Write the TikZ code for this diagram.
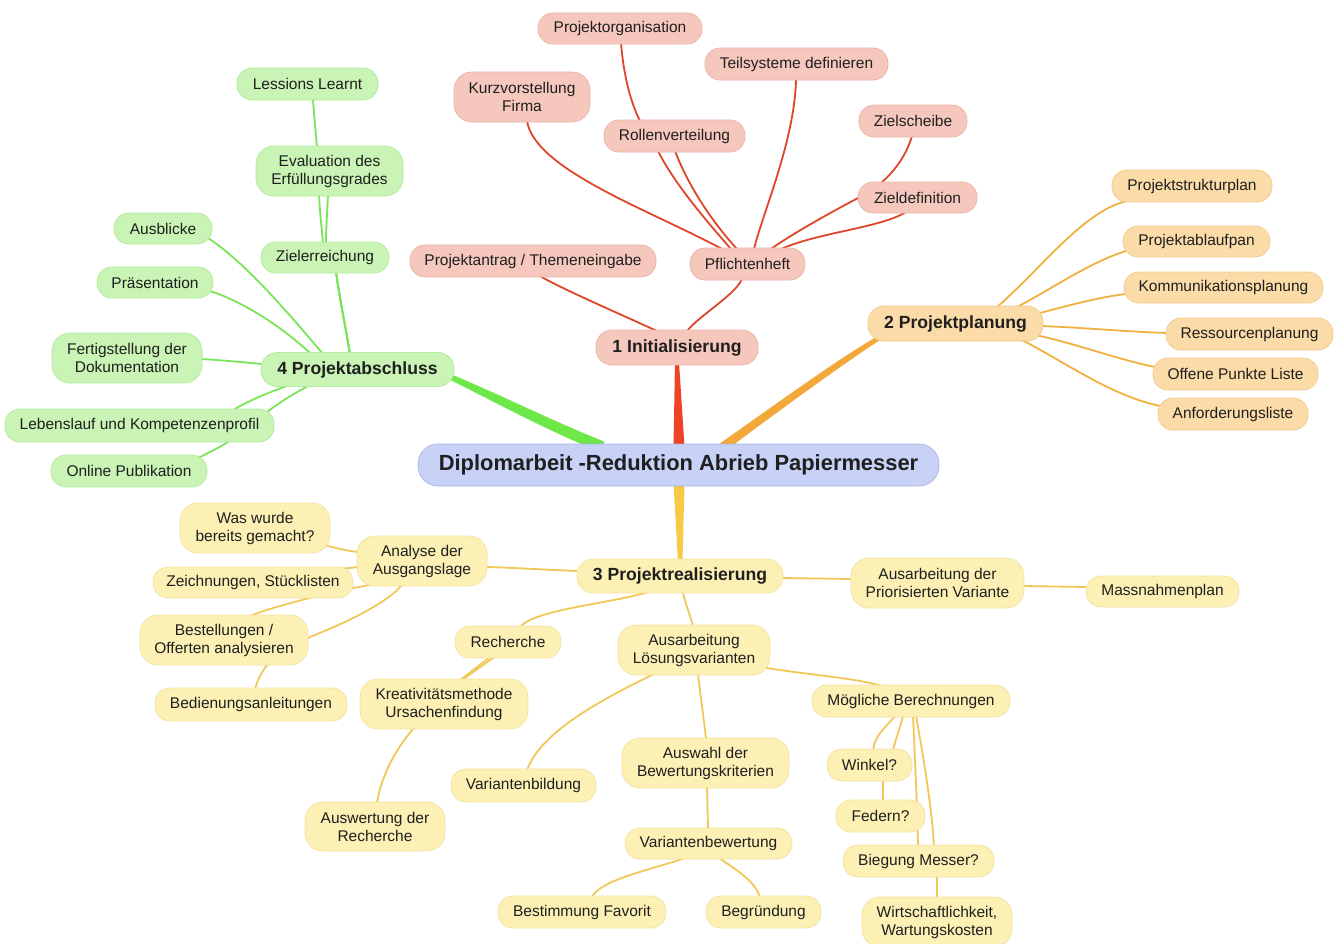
\documentclass[tikz,border=0pt]{standalone}
\usepackage{fontspec}
\setmainfont{Liberation Sans}
\usetikzlibrary{calc}

\definecolor{ink}{HTML}{1F1F1F}
\definecolor{rootfill}{HTML}{C8D1F6}
\definecolor{rootdraw}{HTML}{A7B3E8}
\definecolor{rfill}{HTML}{F6C8BD}
\definecolor{rdraw}{HTML}{EBB3A6}
\definecolor{rline}{HTML}{DD4628}
\definecolor{rband}{HTML}{EE4324}
\definecolor{ofill}{HTML}{FBDBA7}
\definecolor{odraw}{HTML}{F3CB8E}
\definecolor{oline}{HTML}{F0B13F}
\definecolor{oband}{HTML}{F2A93A}
\definecolor{yfill}{HTML}{FCF0B4}
\definecolor{ydraw}{HTML}{F3E3A0}
\definecolor{yline}{HTML}{F1C757}
\definecolor{yband}{HTML}{F6CA45}
\definecolor{gfill}{HTML}{C9F4B6}
\definecolor{gdraw}{HTML}{B2EB9A}
\definecolor{gline}{HTML}{7BE55A}
\definecolor{gband}{HTML}{6DE848}

\newcommand\fsLeaf{\fontsize{15.5}{18}\selectfont}
\newcommand\fsTopic{\bfseries\fontsize{17.6}{20}\selectfont}
\newcommand\fsRoot{\bfseries\fontsize{21.9}{24}\selectfont}

\pgfdeclarelayer{paper}
\pgfdeclarelayer{links}
\pgfsetlayers{paper,links,main}

\tikzset{
  nd/.style={draw, rounded corners=15pt, line width=0.7pt, inner sep=0pt,
             align=center, text=ink, font=\fsLeaf},
  tall/.style={rounded corners=18pt},
  sz/.style 2 args={minimum width=#1pt, minimum height=#2pt},
  topic/.style={font=\fsTopic, rounded corners=16pt},
  rootnode/.style={nd, fill=rootfill, draw=rootdraw, font=\fsRoot, rounded corners=20pt},
  rleaf/.style={nd, fill=rfill, draw=rdraw},
  oleaf/.style={nd, fill=ofill, draw=odraw},
  yleaf/.style={nd, fill=yfill, draw=ydraw},
  gleaf/.style={nd, fill=gfill, draw=gdraw},
  link/.style={line width=1.8pt, line cap=round, line join=round},
  rlink/.style={link, draw=rline},
  olink/.style={link, draw=oline},
  ylink/.style={link, draw=yline},
  glink/.style={link, draw=gline},
}

\begin{document}
\begin{tikzpicture}[x=1pt, y=-1pt]
\begin{pgfonlayer}{paper}
  \fill[white] (0,0) rectangle (1338,943);
\end{pgfonlayer}
\useasboundingbox (0,0) rectangle (1338,943);

% ---------- central topic and main branches ----------
\node[rootnode, sz={521}{42}] (root) at (678.5,465) {Diplomarbeit -Reduktion Abrieb Papiermesser};
\node[rleaf, topic, sz={162}{35}] (init) at (677,347.5) {1 Initialisierung};
\node[oleaf, topic, sz={175}{35}] (pp2) at (955.5,323.5) {2 Projektplanung};
\node[yleaf, topic, sz={206}{34}] (pr3) at (680,576) {3 Projektrealisierung};
\node[gleaf, topic, sz={193}{34}] (pa4) at (357.5,369.5) {4 Projektabschluss};

% ---------- 1 Initialisierung ----------
\node[rleaf, sz={246}{32}] (antrag) at (533,261) {Projektantrag / Themeneingabe};
\node[rleaf, sz={115}{32}] (pfl) at (747.5,264) {Pflichtenheft};
\node[rleaf, tall, sz={136}{50}] (kurz) at (522,97) {Kurzvorstellung\\Firma};
\node[rleaf, sz={164}{31}] (porg) at (620,28.5) {Projektorganisation};
\node[rleaf, sz={141}{32}] (roll) at (674.5,136) {Rollenverteilung};
\node[rleaf, sz={183}{32}] (teil) at (796.5,64) {Teilsysteme definieren};
\node[rleaf, sz={108}{32}] (zsch) at (913,121) {Zielscheibe};
\node[rleaf, sz={119}{31}] (zdef) at (917.5,197.5) {Zieldefinition};

% ---------- 2 Projektplanung ----------
\node[oleaf, sz={160}{32}] (pst) at (1192,186) {Projektstrukturplan};
\node[oleaf, sz={147}{31}] (pab) at (1196.5,241.5) {Projektablaufpan};
\node[oleaf, sz={199}{31}] (kom) at (1223.5,287.5) {Kommunikationsplanung};
\node[oleaf, sz={167}{32}] (res) at (1249.5,334) {Ressourcenplanung};
\node[oleaf, sz={165}{32}] (opl) at (1235.5,374) {Offene Punkte Liste};
\node[oleaf, sz={150}{32}] (anf) at (1233,414) {Anforderungsliste};

% ---------- 4 Projektabschluss ----------
\node[gleaf, sz={141}{32}] (les) at (307.5,84) {Lessions Learnt};
\node[gleaf, tall, sz={147}{50}] (eva) at (329.5,171) {Evaluation des\\Erfüllungsgrades};
\node[gleaf, sz={128}{31}] (zie) at (325,257.5) {Zielerreichung};
\node[gleaf, sz={98}{31}] (aus) at (163,228.5) {Ausblicke};
\node[gleaf, sz={116}{31}] (pra) at (155,282.5) {Präsentation};
\node[gleaf, tall, sz={150}{50}] (fer) at (127,358) {Fertigstellung der\\Dokumentation};
\node[gleaf, sz={269}{33}] (leb) at (139.5,425.5) {Lebenslauf und Kompetenzenprofil};
\node[gleaf, sz={156}{32}] (onl) at (129,471) {Online Publikation};

% ---------- 3 Projektrealisierung ----------
\node[yleaf, tall, sz={130}{50}] (ana) at (422,561) {Analyse der\\Ausgangslage};
\node[yleaf, tall, sz={150}{50}] (was) at (255,528) {Was wurde\\bereits gemacht?};
\node[yleaf, sz={200}{31}] (zei) at (253,582.5) {Zeichnungen, Stücklisten};
\node[yleaf, tall, sz={168}{50}] (bes) at (224,640) {Bestellungen /\\Offerten analysieren};
\node[yleaf, sz={192}{33}] (bed) at (251,704.5) {Bedienungsanleitungen};
\node[yleaf, sz={106}{32}] (rec) at (508,642) {Recherche};
\node[yleaf, tall, sz={168}{50}] (kre) at (444,704) {Kreativitätsmethode\\Ursachenfindung};
\node[yleaf, tall, sz={140}{49}] (ausw) at (375,826.5) {Auswertung der\\Recherche};
\node[yleaf, tall, sz={152}{50}] (alv) at (694,650) {Ausarbeitung\\Lösungsvarianten};
\node[yleaf, sz={145}{33}] (vbi) at (523.5,785.5) {Variantenbildung};
\node[yleaf, tall, sz={167}{50}] (awk) at (705.5,763) {Auswahl der\\Bewertungskriterien};
\node[yleaf, sz={167}{31}] (vbw) at (708.5,843.5) {Variantenbewertung};
\node[yleaf, sz={168}{32}] (bfa) at (582,912) {Bestimmung Favorit};
\node[yleaf, sz={115}{32}] (beg) at (763.5,912) {Begründung};
\node[yleaf, sz={198}{32}] (mbe) at (911,701) {Mögliche Berechnungen};
\node[yleaf, sz={85}{32}] (win) at (869.5,765) {Winkel?};
\node[yleaf, sz={89}{32}] (fed) at (880.5,816) {Federn?};
\node[yleaf, sz={151}{32}] (bie) at (918.5,861) {Biegung Messer?};
\node[yleaf, tall, sz={150}{50}] (wir) at (937,922) {Wirtschaftlichkeit,\\Wartungskosten};
\node[yleaf, tall, sz={173}{50}] (apv) at (937.5,583) {Ausarbeitung der\\Priorisierten Variante};
\node[yleaf, sz={153}{31}] (mas) at (1162.5,591.5) {Massnahmenplan};

\begin{pgfonlayer}{links}
% tapered main branches
\fill[rband] ($(init.south)+(-2,-3)$) -- ($(init.south)+(2,-3)$)
  -- ($(root.north)+(6,3)$) -- ($(root.north)+(-5,3)$) -- cycle;
\fill[yband] ($(root.south)+(-5,-3)$) -- ($(root.south)+(6,-3)$)
  -- ($(pr3.north)+(2.5,3)$) -- ($(pr3.north)+(-2,3)$) -- cycle;
\fill[gband] ($(pa4.east)+(-3,5)$) .. controls (497,393) and (550,420) .. ($(root.north)+(-74,-2)$)
  -- ($(root.north)+(-79,8)$) .. controls (546,430) and (493,401) .. ($(pa4.east)+(-5,10)$) -- cycle;
\fill[oband] ($(pp2.south west)+(10,-5)$) .. controls (843,355) and (758,417) .. ($(root.north)+(41,0)$)
  -- ($(root.north)+(46,8)$) .. controls (762,423) and (847,361) .. ($(pp2.south west)+(12,-1)$) -- cycle;

% 1 Initialisierung
\draw[rlink] (init.center) -- (657,331) .. controls (620,314) and (560,288) .. (540,276) -- (antrag.center);
\draw[rlink] (init.center) -- (687,331) .. controls (700,315) and (735,295) .. (742,279) -- (pfl.center);
\draw[rlink] (kurz.center) -- (527,121) .. controls (535,170) and (650,210) .. (724,250) -- (pfl.center);
\draw[rlink] (porg.center) -- (621,43) .. controls (624,80) and (632,105) .. (640,121)
  -- (658,151) .. controls (675,185) and (710,225) .. (731,249) -- (pfl.center);
\draw[rlink] (roll.center) -- (675,151) .. controls (690,190) and (715,225) .. (737,249) -- (pfl.center);
\draw[rlink] (teil.center) -- (796,79) .. controls (795,140) and (762,215) .. (754,249) -- (pfl.center);
\draw[rlink] (zsch.center) -- (912,136) .. controls (905,160) and (890,175) .. (881,183)
  -- (860,197) .. controls (835,210) and (790,235) .. (771,249) -- (pfl.center);
\draw[rlink] (zdef.center) -- (906,212) .. controls (880,228) and (820,232) .. (781,249) -- (pfl.center);

% 2 Projektplanung
\draw[olink] (pp2.center) -- (997,307) .. controls (1040,270) and (1080,215) .. (1123,202) -- (pst.center);
\draw[olink] (pp2.center) -- (1017,307) .. controls (1050,290) and (1090,262) .. (1126,251) -- (pab.center);
\draw[olink] (pp2.center) -- (1040,313) .. controls (1070,305) and (1100,297) .. (1126,294) -- (kom.center);
\draw[olink] (pp2.center) -- (1042,326) .. controls (1090,328) and (1130,332) .. (1168,333) -- (res.center);
\draw[olink] (pp2.center) -- (1040,336) .. controls (1080,345) and (1120,360) .. (1155,367) -- (opl.center);
\draw[olink] (pp2.center) -- (1022,340) .. controls (1070,365) and (1110,395) .. (1160,406) -- (anf.center);

% 4 Projektabschluss
\draw[glink] (les.center) -- (313,99) .. controls (314,115) and (316,135) .. (317,147)
  -- (319,195) .. controls (320,215) and (322,230) .. (323,243)
  -- (336,272) .. controls (340,300) and (346,330) .. (350,354) -- (pa4.center);
\draw[glink] (eva.center) -- (328,195) .. controls (327,215) and (326,230) .. (326,243)
  -- (336,272) .. controls (340,300) and (346,330) .. (350,354) -- (pa4.center);
\draw[glink] (zie.center) -- (336,272) .. controls (340,300) and (346,330) .. (350,354) -- (pa4.center);
\draw[glink] (aus.center) -- (208,238) .. controls (245,262) and (290,315) .. (323,354) -- (pa4.center);
\draw[glink] (pra.center) -- (213,292) .. controls (250,305) and (285,330) .. (310,353) -- (pa4.center);
\draw[glink] (fer.center) -- (201,359) .. controls (220,360) and (240,362) .. (262,364) -- (pa4.center);
\draw[glink] (leb.center) -- (233,410) .. controls (250,400) and (270,392) .. (287,386) -- (pa4.center);
\draw[glink] (onl.center) -- (200,457) .. controls (210,452) and (220,447) .. (228,442)
  -- (267,412) .. controls (280,402) and (295,393) .. (308,386) -- (pa4.center);

% 3 Projektrealisierung
\draw[ylink] (ana.center) -- (487,567) .. controls (520,568) and (550,570) .. (578,571) -- (pr3.center);
\draw[ylink] (was.center) -- (328,546) .. controls (340,549) and (348,551) .. (358,552) -- (ana.center);
\draw[ylink] (zei.center) -- (340,569) -- (358,567) -- (ana.center);
\draw[ylink] (bes.center) -- (250,616) .. controls (270,608) and (295,602) .. (313,597)
  -- (353,588) .. controls (360,587) and (365,586) .. (372,584) -- (ana.center);
\draw[ylink] (bed.center) -- (255,689) .. controls (258,678) and (263,670) .. (268,664)
  -- (310,637) .. controls (340,625) and (385,605) .. (402,585) -- (ana.center);
\draw[ylink] (pr3.center) -- (645,593) .. controls (600,605) and (535,610) .. (520,627) -- (rec.center);
\draw[ylink] (kre.center) -- (462,680) -- (493,658) -- (rec.center);
\draw[ylink] (ausw.center) -- (377,802) .. controls (382,775) and (395,750) .. (413,729)
  -- (459,681) -- (490,657) -- (rec.center);
\draw[ylink] (pr3.center) -- (683,593) .. controls (686,605) and (690,615) .. (693,626) -- (alv.center);
\draw[ylink] (alv.center) -- (654,674) .. controls (590,705) and (540,735) .. (527,770) -- (vbi.center);
\draw[ylink] (alv.center) -- (698,674) .. controls (701,700) and (704,720) .. (706,739) -- (awk.center);
\draw[ylink] (awk.center) -- (707,787) -- (708,828) -- (vbw.center);
\draw[ylink] (vbw.center) -- (685,858) .. controls (650,870) and (600,880) .. (592,897) -- (bfa.center);
\draw[ylink] (vbw.center) -- (719,858) .. controls (740,872) and (755,882) .. (760,897) -- (beg.center);
\draw[ylink] (alv.center) -- (767,668) .. controls (810,675) and (855,678) .. (882,686) -- (mbe.center);
\draw[ylink] (mbe.center) -- (895,716) .. controls (885,728) and (875,735) .. (873,750) -- (win.center);
\draw[ylink] (mbe.center) -- (903,716) .. controls (900,728) and (896,738) .. (893,750)
  -- (883,781) .. controls (883,788) and (883,795) .. (883,801) -- (fed.center);
\draw[ylink] (mbe.center) -- (913,716) .. controls (915,760) and (917,800) .. (918,846) -- (bie.center);
\draw[ylink] (mbe.center) -- (916,716) .. controls (924,760) and (932,810) .. (934,846)
  -- (937,876) .. controls (937,883) and (937,890) .. (937,898) -- (wir.center);
\draw[ylink] (pr3.center) -- (782,578) -- (852,579) -- (apv.center);
\draw[ylink] (apv.center) -- (1023,586) -- (1087,587) -- (mas.center);
\end{pgfonlayer}
\end{tikzpicture}
\end{document}
